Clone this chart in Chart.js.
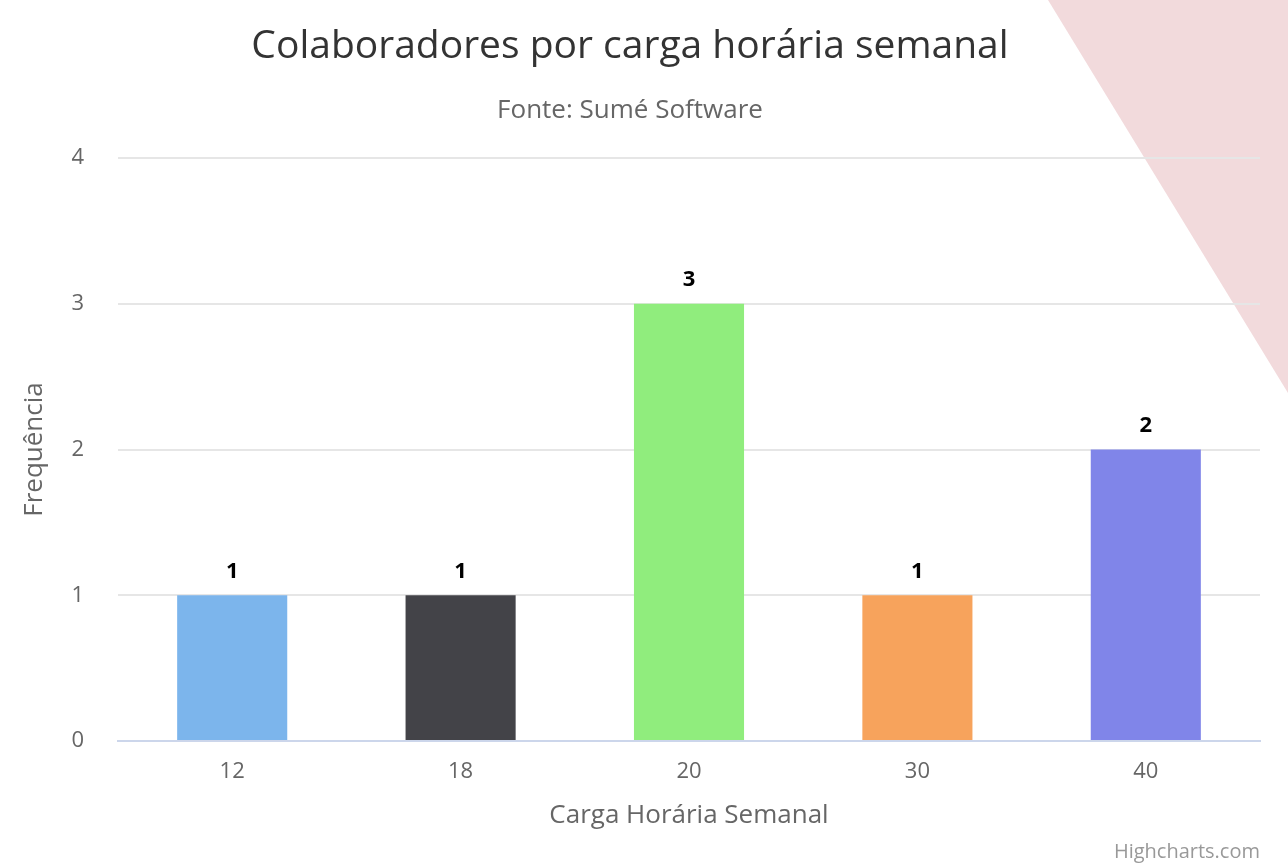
<!DOCTYPE html>
<html>
<head>
<meta charset="utf-8">
<script src="https://cdn.jsdelivr.net/npm/chart.js@4.4.1/dist/chart.umd.min.js"></script>
<style>
  html, body { margin: 0; padding: 0; background: #fff; }
  canvas { display: block; }
</style>
</head>
<body>
<canvas id="chart" width="1288" height="863"></canvas>
<script>
const categories = ["12", "18", "20", "30", "40"]
const frequencies = [1, 1, 3, 1, 2]
const barColors = ["#7cb5ec", "#434348", "#90ed7d", "#f7a35c", "#8085e9"]
const yTicks = [0, 1, 2, 3, 4]

const FONT = "'Open Sans', 'DejaVu Sans', sans-serif"

// pink corner decoration, painted before everything else
const cornerShape = {
  id: "cornerShape",
  beforeDraw(chart) {
    const { ctx, width } = chart
    ctx.save()
    ctx.fillStyle = "#f2dadc"
    ctx.beginPath()
    ctx.moveTo(width - 240, 0)
    ctx.lineTo(width, 0)
    ctx.lineTo(width, 393)
    ctx.closePath()
    ctx.fill()
    ctx.restore()
  }
}

// value printed above each column
const valueLabels = {
  id: "valueLabels",
  afterDatasetsDraw(chart) {
    const { ctx } = chart
    const meta = chart.getDatasetMeta(0)
    ctx.save()
    ctx.font = "bold 22px " + FONT
    ctx.textAlign = "center"
    ctx.textBaseline = "middle"
    ctx.lineWidth = 3
    ctx.strokeStyle = "#ffffff"
    ctx.fillStyle = "#000000"
    meta.data.forEach((bar, i) => {
      const text = String(frequencies[i])
      ctx.strokeText(text, bar.x, bar.y - 24)
      ctx.fillText(text, bar.x, bar.y - 24)
    })
    ctx.restore()
  }
}

const credits = {
  id: "credits",
  afterDraw(chart) {
    const { ctx } = chart
    ctx.save()
    ctx.font = "20px " + FONT
    ctx.fillStyle = "#999999"
    ctx.textAlign = "right"
    ctx.textBaseline = "middle"
    ctx.fillText("Highcharts.com", chart.chartArea.right, 852)
    ctx.restore()
  }
}

new Chart(document.getElementById("chart"), {
  type: "bar",
  data: {
    labels: categories,
    datasets: [
      {
        label: "Frequência",
        data: frequencies,
        backgroundColor: barColors,
        borderWidth: 0,
        categoryPercentage: 1,
        barPercentage: 0.482
      }
    ]
  },
  options: {
    responsive: false,
    animation: false,
    layout: { padding: { top: 0, right: 28, bottom: 0, left: 0 } },
    plugins: {
      legend: { display: false },
      tooltip: { enabled: false },
      title: {
        display: true,
        text: "Colaboradores por carga horária semanal",
        color: "#333333",
        font: { family: FONT, size: 39, weight: "normal" },
        padding: { top: 23, bottom: 25 }
      },
      subtitle: {
        display: true,
        text: "Fonte: Sumé Software",
        color: "#666666",
        font: { family: FONT, size: 26, weight: "normal" },
        padding: { top: 0, bottom: 32 }
      }
    },
    scales: {
      x: {
        grid: { display: false, drawTicks: false },
        border: { color: "#ccd6eb", width: 2 },
        ticks: { color: "#666666", font: { family: FONT, size: 22 }, padding: 18 },
        title: {
          display: true,
          text: "Carga Horária Semanal",
          color: "#666666",
          font: { family: FONT, size: 26 },
          padding: { top: 0, bottom: 32 }
        },
        afterFit(scale) { scale.height = 122 }
      },
      y: {
        min: yTicks[0],
        max: yTicks[yTicks.length - 1],
        afterBuildTicks(scale) { scale.ticks = yTicks.map((v) => ({ value: v })) },
        grid: { color: "#e6e6e6", lineWidth: 2, drawTicks: false },
        border: { display: false },
        ticks: { color: "#666666", font: { family: FONT, size: 22 }, padding: 34 },
        title: {
          display: true,
          text: "Frequência",
          color: "#666666",
          font: { family: FONT, size: 26 },
          padding: { top: 19, bottom: 0 }
        },
        afterFit(scale) { scale.width = 118 }
      }
    }
  },
  plugins: [cornerShape, valueLabels, credits]
})
</script>
</body>
</html>
